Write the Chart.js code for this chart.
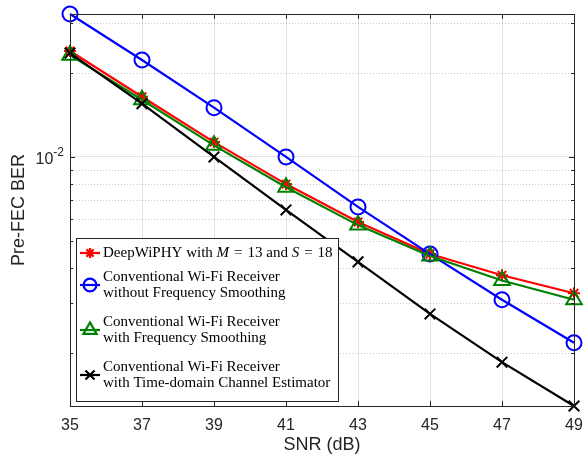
<!DOCTYPE html>
<html>
<head>
<meta charset="utf-8">
<script src="https://cdn.jsdelivr.net/npm/chart.js@4.4.0/dist/chart.umd.min.js"></script>
<style>
    html, body { margin: 0; padding: 0; background: #fff; }
    #wrap { width: 585px; height: 455px; }
</style>
</head>
<body>
<div id="wrap"><canvas id="berChart" width="585" height="455"></canvas></div>
<script>
// Chart data
const snrDb = [35, 37, 39, 41, 43, 45, 47, 49];
const berDeepWiphy = [0.0239, 0.0164, 0.0113, 0.0080, 0.00586, 0.00450, 0.00378, 0.00326];
const berNoSmoothing = [0.0324, 0.0222, 0.0150, 0.0100, 0.00663, 0.00450, 0.00309, 0.00217];
const berSmoothing = [0.0231, 0.0160, 0.0110, 0.0078, 0.00571, 0.00443, 0.00362, 0.00309];
const berTimeDomain = [0.0235, 0.0155, 0.0100, 0.00647, 0.00422, 0.00275, 0.00185, 0.00129];

const xTickValues = [35, 37, 39, 41, 43, 45, 47, 49];
const yMajorTicks = [0.01];
const yMinorTicks = [0.002, 0.003, 0.004, 0.005, 0.006, 0.007, 0.008, 0.009, 0.02, 0.03];

// Legend text, one array of lines per series (i = italic, p = math spacing before)
const legendLines = [
    [[{ t: 'DeepWiPHY with ' }, { t: 'M', i: true }, { t: '=', p: 5 }, { t: '13 and ', p: 5 },
      { t: 'S', i: true }, { t: '=', p: 5 }, { t: '18', p: 5 }]],
    [[{ t: 'Conventional Wi-Fi Receiver' }], [{ t: 'without Frequency Smoothing' }]],
    [[{ t: 'Conventional Wi-Fi Receiver' }], [{ t: 'with Frequency Smoothing' }]],
    [[{ t: 'Conventional Wi-Fi Receiver' }], [{ t: 'with Time-domain Channel Estimator' }]]
];

const series = [
    { label: 'DeepWiPHY with M = 13 and S = 18', data: berDeepWiphy, color: '#ff0000', style: 'star', radius: 6 },
    { label: 'Conventional Wi-Fi Receiver without Frequency Smoothing', data: berNoSmoothing, color: '#0000ff', style: 'circle', radius: 7.5 },
    { label: 'Conventional Wi-Fi Receiver with Frequency Smoothing', data: berSmoothing, color: '#008000', style: 'triangle', radius: 9 },
    { label: 'Conventional Wi-Fi Receiver with Time-domain Channel Estimator', data: berTimeDomain, color: '#000000', style: 'crossRot', radius: 7.5 }
];

const allValues = [].concat(berDeepWiphy, berNoSmoothing, berSmoothing, berTimeDomain);
const axisColor = '#262626';
const sansFont = '"Liberation Sans", Arial, Helvetica, sans-serif';
const serifFont = '"Liberation Serif", "Times New Roman", serif';

// Draw the legend box in the lower left corner
function drawLegend(chart) {
    const ctx = chart.ctx;
    const area = chart.chartArea;
    const left = area.left + 6;
    const bottom = area.bottom - 5;
    const width = 262;
    const height = 163;
    const top = bottom - height;

    ctx.save();
    ctx.fillStyle = '#ffffff';
    ctx.fillRect(left, top, width, height);
    ctx.strokeStyle = axisColor;
    ctx.lineWidth = 1;
    ctx.strokeRect(Math.round(left) + 0.5, Math.round(top) + 0.5, width, height);

    const centers = [top + 15, top + 47, top + 92, top + 137];
    const lineGap = 16;
    ctx.textBaseline = 'middle';

    series.forEach((s, idx) => {
        const cy = centers[idx];
        const mx = left + 14;

        // sample line + marker
        ctx.strokeStyle = s.color;
        ctx.fillStyle = 'rgba(0, 0, 0, 0)';
        ctx.lineWidth = 2.2;
        ctx.setLineDash([]);
        ctx.beginPath();
        ctx.moveTo(mx - 10, cy);
        ctx.lineTo(mx + 10, cy);
        ctx.stroke();
        Chart.helpers.drawPoint(ctx, {
            pointStyle: s.style,
            radius: s.radius * 0.85,
            rotation: 0,
            borderWidth: 2
        }, mx, cy);

        // text lines
        const lines = legendLines[idx];
        const firstY = cy - (lines.length - 1) * lineGap / 2;
        ctx.fillStyle = '#000000';
        lines.forEach((segs, li) => {
            let tx = left + 27;
            const ty = firstY + li * lineGap;
            segs.forEach(seg => {
                ctx.font = (seg.i ? 'italic ' : '') + '15px ' + serifFont;
                ctx.textAlign = 'left';
                tx += seg.p || 0;
                ctx.fillText(seg.t, tx, ty);
                tx += ctx.measureText(seg.t).width;
            });
        });
    });
    ctx.restore();
}

// MATLAB style box, inward ticks, minor grid and the 10^-2 label
const matlabAxes = {
    id: 'matlabAxes',
    beforeDatasetsDraw(chart) {
        const { ctx, chartArea: a, scales: { y } } = chart;
        ctx.save();
        ctx.strokeStyle = 'rgba(38, 38, 38, 0.25)';
        ctx.lineWidth = 1;
        ctx.setLineDash([1, 2]);
        yMinorTicks.forEach(v => {
            const py = Math.round(y.getPixelForValue(v)) + 0.5;
            ctx.beginPath();
            ctx.moveTo(a.left, py);
            ctx.lineTo(a.right, py);
            ctx.stroke();
        });
        ctx.restore();
    },
    afterDatasetsDraw(chart) {
        const { ctx, chartArea: a, scales: { x, y } } = chart;
        ctx.save();
        ctx.strokeStyle = axisColor;
        ctx.lineWidth = 1;
        ctx.setLineDash([]);

        // box
        ctx.strokeRect(Math.round(a.left) + 0.5, Math.round(a.top) + 0.5,
            Math.round(a.right - a.left), Math.round(a.bottom - a.top));

        ctx.beginPath();
        // x ticks, bottom and top
        xTickValues.forEach(v => {
            const px = Math.round(x.getPixelForValue(v)) + 0.5;
            ctx.moveTo(px, a.bottom);
            ctx.lineTo(px, a.bottom - 5);
            ctx.moveTo(px, a.top);
            ctx.lineTo(px, a.top + 5);
        });
        // y ticks, left and right
        yMajorTicks.forEach(v => {
            const py = Math.round(y.getPixelForValue(v)) + 0.5;
            ctx.moveTo(a.left, py);
            ctx.lineTo(a.left + 5, py);
            ctx.moveTo(a.right, py);
            ctx.lineTo(a.right - 5, py);
        });
        yMinorTicks.forEach(v => {
            const py = Math.round(y.getPixelForValue(v)) + 0.5;
            ctx.moveTo(a.left, py);
            ctx.lineTo(a.left + 3, py);
            ctx.moveTo(a.right, py);
            ctx.lineTo(a.right - 3, py);
        });
        ctx.stroke();

        // y tick label with superscript exponent
        ctx.fillStyle = axisColor;
        ctx.textBaseline = 'middle';
        ctx.textAlign = 'right';
        yMajorTicks.forEach(v => {
            const py = y.getPixelForValue(v);
            const exp = String(Math.round(Math.log10(v)));
            ctx.font = '12px ' + sansFont;
            const supW = ctx.measureText(exp).width;
            const rx = a.left - 6;
            ctx.fillText(exp, rx, py - 4);
            ctx.font = '16px ' + sansFont;
            ctx.fillText('10', rx - supW, py + 3);
        });
        ctx.restore();

        drawLegend(chart);
    }
};

// Build the chart
function initializeChart() {
    const ctx = document.getElementById('berChart');

    new Chart(ctx, {
        type: 'line',
        data: {
            datasets: series.map((s, i) => ({
                label: s.label,
                data: snrDb.map((snr, k) => ({ x: snr, y: s.data[k] })),
                borderColor: s.color,
                backgroundColor: s.color,
                borderWidth: 2.2,
                pointStyle: s.style,
                pointRadius: s.radius,
                pointBorderWidth: 2,
                pointBorderColor: s.color,
                pointBackgroundColor: 'rgba(0, 0, 0, 0)',
                tension: 0,
                fill: false,
                clip: false,
                order: series.length - 1 - i
            }))
        },
        options: {
            responsive: false,
            animation: false,
            events: [],
            layout: {
                padding: { top: 14, right: 10, left: 0, bottom: 0 }
            },
            scales: {
                x: {
                    type: 'linear',
                    min: 35,
                    max: 49,
                    afterBuildTicks: scale => {
                        scale.ticks = xTickValues.map(v => ({ value: v }));
                    },
                    afterFit: scale => {
                        scale.height = 49;
                        scale.paddingLeft = 0;
                        scale.paddingRight = 0;
                    },
                    border: { display: false },
                    grid: { color: '#e3e3e3', lineWidth: 1, drawTicks: false },
                    ticks: {
                        color: axisColor,
                        padding: 10,
                        maxRotation: 0,
                        font: { family: sansFont, size: 16 }
                    },
                    title: {
                        display: true,
                        text: 'SNR (dB)',
                        color: axisColor,
                        padding: { top: 0, bottom: -1 },
                        font: { family: sansFont, size: 18 }
                    }
                },
                y: {
                    type: 'logarithmic',
                    min: Math.min(...allValues),
                    max: Math.max(...allValues),
                    afterBuildTicks: scale => {
                        scale.ticks = yMajorTicks.map(v => ({ value: v }));
                    },
                    afterFit: scale => { scale.width = 70; },
                    border: { display: false },
                    grid: { color: '#e3e3e3', lineWidth: 1, drawTicks: false },
                    ticks: { display: false },
                    title: {
                        display: true,
                        text: 'Pre-FEC BER',
                        color: axisColor,
                        padding: { top: 8, bottom: 0 },
                        font: { family: sansFont, size: 18 }
                    }
                }
            },
            plugins: {
                legend: { display: false },
                tooltip: { enabled: false }
            }
        },
        plugins: [matlabAxes]
    });
}

document.addEventListener('DOMContentLoaded', initializeChart);
</script>
</body>
</html>
